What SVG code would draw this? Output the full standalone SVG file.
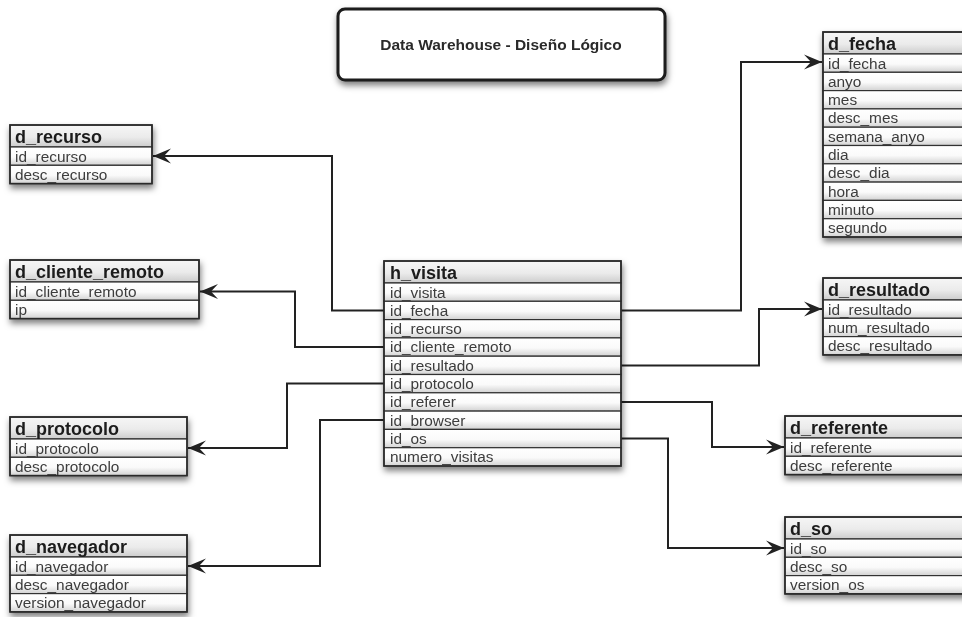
<svg xmlns="http://www.w3.org/2000/svg" width="962" height="617" viewBox="0 0 962 617">
  <defs>
    <linearGradient id="gHead" x1="0" y1="0" x2="0" y2="1">
      <stop offset="0" stop-color="#f6f6f6"/>
      <stop offset="0.55" stop-color="#ebebeb"/>
      <stop offset="1" stop-color="#cccccc"/>
    </linearGradient>
    <linearGradient id="gRow" x1="0" y1="0" x2="0" y2="1">
      <stop offset="0" stop-color="#ffffff"/>
      <stop offset="0.55" stop-color="#fafafa"/>
      <stop offset="1" stop-color="#d2d2d2"/>
    </linearGradient>
    <filter id="shadow" x="-10%" y="-10%" width="125%" height="130%">
      <feDropShadow dx="1" dy="4" stdDeviation="3" flood-color="#000" flood-opacity="0.5"/>
    </filter>
    <marker id="arrow" markerUnits="userSpaceOnUse" markerWidth="22" markerHeight="18" viewBox="-19 -9 21 18" refX="0" refY="0" orient="auto">
      <path d="M0,0 L-18,-7.5 L-11,0 L-18,7.5 Z" fill="#222"/>
    </marker>
    <style>
      .head { fill: url(#gHead); stroke: #333; stroke-width: 1.4; }
      .row { fill: url(#gRow); stroke: #333; stroke-width: 1.2; }
      .frame { fill: none; stroke: #2a2a2a; stroke-width: 1.6; }
      .htxt { font-family: "Liberation Sans", Arial, Helvetica, sans-serif; font-size: 18px; font-weight: bold; fill: #1c1c1c; }
      .rtxt { font-family: "Liberation Sans", Arial, Helvetica, sans-serif; font-size: 15.4px; fill: #3c3c3c; }
      .wire { fill: none; stroke: #222; stroke-width: 2; marker-end: url(#arrow); }
      .title { font-family: "Liberation Sans", Arial, Helvetica, sans-serif; font-size: 15.5px; font-weight: bold; fill: #2a2a2a; }
    </style>
  </defs>

  <rect width="962" height="617" fill="#ffffff"/>

  <!-- title box -->
  <g id="title" filter="url(#shadow)">
    <rect x="338" y="9" width="327" height="71" rx="7" fill="#fff" stroke="#1a1a1a" stroke-width="3"/>
    <text class="title" x="501" y="50" text-anchor="middle">Data Warehouse - Diseño Lógico</text>
  </g>

  <!-- connectors -->
  <g id="connectors">
    <path class="wire" d="M384,310.5 H332 V156 H153"/>
    <path class="wire" d="M384,347 H295 V291.5 H200"/>
    <path class="wire" d="M384,383.5 H287 V448 H188"/>
    <path class="wire" d="M384,420 H320 V566 H188"/>
    <path class="wire" d="M621,310.5 H741 V62 H822"/>
    <path class="wire" d="M621,365.5 H759 V309 H822"/>
    <path class="wire" d="M621,402 H712 V447 H784"/>
    <path class="wire" d="M621,438.5 H668 V548 H784"/>
  </g>

  <!-- d_recurso -->
  <g id="d_recurso" transform="translate(10,125)" filter="url(#shadow)">
    <rect class="head" x="0" y="0" width="142" height="22"/>
    <rect class="row" x="0" y="22" width="142" height="18.3"/>
    <rect class="row" x="0" y="40.3" width="142" height="18.3"/>
    <rect class="frame" x="0" y="0" width="142" height="58.6"/>
    <text class="htxt" x="5" y="17.5">d_recurso</text>
    <text class="rtxt" x="5" y="36.5">id_recurso</text>
    <text class="rtxt" x="5" y="54.8">desc_recurso</text>
  </g>

  <!-- d_cliente_remoto -->
  <g id="d_cliente_remoto" transform="translate(10,260)" filter="url(#shadow)">
    <rect class="head" x="0" y="0" width="189" height="22"/>
    <rect class="row" x="0" y="22" width="189" height="18.3"/>
    <rect class="row" x="0" y="40.3" width="189" height="18.3"/>
    <rect class="frame" x="0" y="0" width="189" height="58.6"/>
    <text class="htxt" x="5" y="17.5">d_cliente_remoto</text>
    <text class="rtxt" x="5" y="36.5">id_cliente_remoto</text>
    <text class="rtxt" x="5" y="54.8">ip</text>
  </g>

  <!-- d_protocolo -->
  <g id="d_protocolo" transform="translate(10,417)" filter="url(#shadow)">
    <rect class="head" x="0" y="0" width="177" height="22"/>
    <rect class="row" x="0" y="22" width="177" height="18.3"/>
    <rect class="row" x="0" y="40.3" width="177" height="18.3"/>
    <rect class="frame" x="0" y="0" width="177" height="58.6"/>
    <text class="htxt" x="5" y="17.5">d_protocolo</text>
    <text class="rtxt" x="5" y="36.5">id_protocolo</text>
    <text class="rtxt" x="5" y="54.8">desc_protocolo</text>
  </g>

  <!-- d_navegador -->
  <g id="d_navegador" transform="translate(10,535)" filter="url(#shadow)">
    <rect class="head" x="0" y="0" width="177" height="22"/>
    <rect class="row" x="0" y="22" width="177" height="18.3"/>
    <rect class="row" x="0" y="40.3" width="177" height="18.3"/>
    <rect class="row" x="0" y="58.6" width="177" height="18.3"/>
    <rect class="frame" x="0" y="0" width="177" height="76.9"/>
    <text class="htxt" x="5" y="17.5">d_navegador</text>
    <text class="rtxt" x="5" y="36.5">id_navegador</text>
    <text class="rtxt" x="5" y="54.8">desc_navegador</text>
    <text class="rtxt" x="5" y="73.1">version_navegador</text>
  </g>

  <!-- h_visita -->
  <g id="h_visita" transform="translate(384,261)" filter="url(#shadow)">
    <rect class="head" x="0" y="0" width="237" height="22"/>
    <rect class="row" x="0" y="22" width="237" height="18.3"/>
    <rect class="row" x="0" y="40.3" width="237" height="18.3"/>
    <rect class="row" x="0" y="58.6" width="237" height="18.3"/>
    <rect class="row" x="0" y="76.9" width="237" height="18.3"/>
    <rect class="row" x="0" y="95.2" width="237" height="18.3"/>
    <rect class="row" x="0" y="113.5" width="237" height="18.3"/>
    <rect class="row" x="0" y="131.8" width="237" height="18.3"/>
    <rect class="row" x="0" y="150.1" width="237" height="18.3"/>
    <rect class="row" x="0" y="168.4" width="237" height="18.3"/>
    <rect class="row" x="0" y="186.7" width="237" height="18.3"/>
    <rect class="frame" x="0" y="0" width="237" height="205"/>
    <text class="htxt" x="6" y="17.5">h_visita</text>
    <text class="rtxt" x="6" y="36.5">id_visita</text>
    <text class="rtxt" x="6" y="54.8">id_fecha</text>
    <text class="rtxt" x="6" y="73.1">id_recurso</text>
    <text class="rtxt" x="6" y="91.4">id_cliente_remoto</text>
    <text class="rtxt" x="6" y="109.7">id_resultado</text>
    <text class="rtxt" x="6" y="128">id_protocolo</text>
    <text class="rtxt" x="6" y="146.3">id_referer</text>
    <text class="rtxt" x="6" y="164.6">id_browser</text>
    <text class="rtxt" x="6" y="182.9">id_os</text>
    <text class="rtxt" x="6" y="201.2">numero_visitas</text>
  </g>

  <!-- d_fecha -->
  <g id="d_fecha" transform="translate(823,32)" filter="url(#shadow)">
    <rect class="head" x="0" y="0" width="145" height="22"/>
    <rect class="row" x="0" y="22" width="145" height="18.3"/>
    <rect class="row" x="0" y="40.3" width="145" height="18.3"/>
    <rect class="row" x="0" y="58.6" width="145" height="18.3"/>
    <rect class="row" x="0" y="76.9" width="145" height="18.3"/>
    <rect class="row" x="0" y="95.2" width="145" height="18.3"/>
    <rect class="row" x="0" y="113.5" width="145" height="18.3"/>
    <rect class="row" x="0" y="131.8" width="145" height="18.3"/>
    <rect class="row" x="0" y="150.1" width="145" height="18.3"/>
    <rect class="row" x="0" y="168.4" width="145" height="18.3"/>
    <rect class="row" x="0" y="186.7" width="145" height="18.3"/>
    <rect class="frame" x="0" y="0" width="145" height="205"/>
    <text class="htxt" x="5" y="17.5">d_fecha</text>
    <text class="rtxt" x="5" y="36.5">id_fecha</text>
    <text class="rtxt" x="5" y="54.8">anyo</text>
    <text class="rtxt" x="5" y="73.1">mes</text>
    <text class="rtxt" x="5" y="91.4">desc_mes</text>
    <text class="rtxt" x="5" y="109.7">semana_anyo</text>
    <text class="rtxt" x="5" y="128">dia</text>
    <text class="rtxt" x="5" y="146.3">desc_dia</text>
    <text class="rtxt" x="5" y="164.6">hora</text>
    <text class="rtxt" x="5" y="182.9">minuto</text>
    <text class="rtxt" x="5" y="201.2">segundo</text>
  </g>

  <!-- d_resultado -->
  <g id="d_resultado" transform="translate(823,278)" filter="url(#shadow)">
    <rect class="head" x="0" y="0" width="145" height="22"/>
    <rect class="row" x="0" y="22" width="145" height="18.3"/>
    <rect class="row" x="0" y="40.3" width="145" height="18.3"/>
    <rect class="row" x="0" y="58.6" width="145" height="18.3"/>
    <rect class="frame" x="0" y="0" width="145" height="76.9"/>
    <text class="htxt" x="5" y="17.5">d_resultado</text>
    <text class="rtxt" x="5" y="36.5">id_resultado</text>
    <text class="rtxt" x="5" y="54.8">num_resultado</text>
    <text class="rtxt" x="5" y="73.1">desc_resultado</text>
  </g>

  <!-- d_referente -->
  <g id="d_referente" transform="translate(785,416)" filter="url(#shadow)">
    <rect class="head" x="0" y="0" width="183" height="22"/>
    <rect class="row" x="0" y="22" width="183" height="18.3"/>
    <rect class="row" x="0" y="40.3" width="183" height="18.3"/>
    <rect class="frame" x="0" y="0" width="183" height="58.6"/>
    <text class="htxt" x="5" y="17.5">d_referente</text>
    <text class="rtxt" x="5" y="36.5">id_referente</text>
    <text class="rtxt" x="5" y="54.8">desc_referente</text>
  </g>

  <!-- d_so -->
  <g id="d_so" transform="translate(785,517)" filter="url(#shadow)">
    <rect class="head" x="0" y="0" width="183" height="22"/>
    <rect class="row" x="0" y="22" width="183" height="18.3"/>
    <rect class="row" x="0" y="40.3" width="183" height="18.3"/>
    <rect class="row" x="0" y="58.6" width="183" height="18.3"/>
    <rect class="frame" x="0" y="0" width="183" height="76.9"/>
    <text class="htxt" x="5" y="17.5">d_so</text>
    <text class="rtxt" x="5" y="36.5">id_so</text>
    <text class="rtxt" x="5" y="54.8">desc_so</text>
    <text class="rtxt" x="5" y="73.1">version_os</text>
  </g>
</svg>
